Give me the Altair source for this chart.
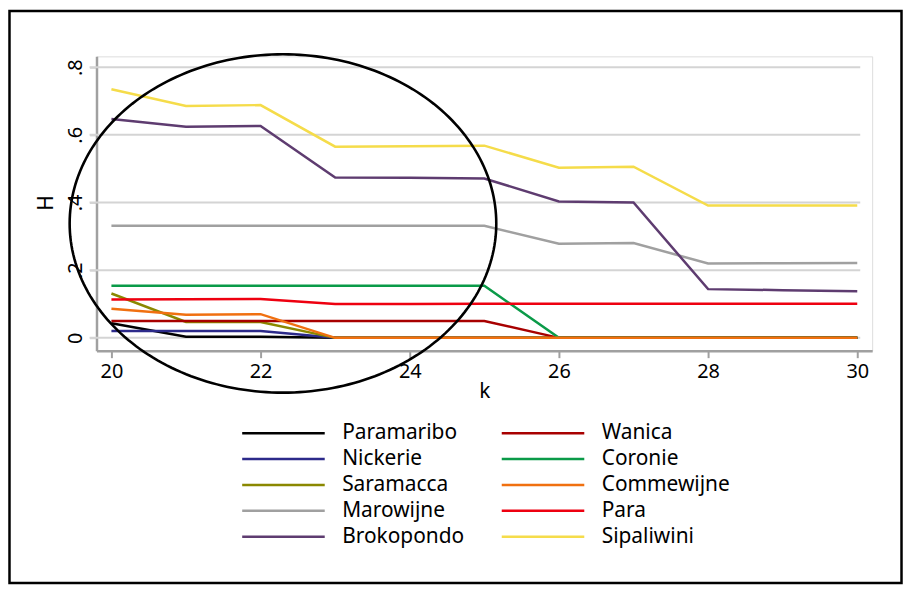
import altair as alt
import numpy as np
import pandas as pd

# ---------------- data ----------------
k = [20, 21, 22, 23, 24, 25, 26, 27, 28, 29, 30]

series_names = ["Paramaribo", "Nickerie", "Saramacca", "Marowijne", "Brokopondo",
                "Wanica", "Coronie", "Commewijne", "Para", "Sipaliwini"]

paramaribo = [0.043, 0.003, 0.003, 0, 0, 0, 0, 0, 0, 0, 0]
nickerie   = [0.020, 0.020, 0.020, 0, 0, 0, 0, 0, 0, 0, 0]
saramacca  = [0.131, 0.047, 0.047, 0, 0, 0, 0, 0, 0, 0, 0]
marowijne  = [0.331, 0.331, 0.331, 0.331, 0.331, 0.331, 0.278, 0.280, 0.220, 0.2205, 0.221]
brokopondo = [0.647, 0.624, 0.626, 0.474, 0.4735, 0.471, 0.403, 0.400, 0.144, 0.141, 0.138]
wanica     = [0.050, 0.050, 0.050, 0.050, 0.050, 0.050, 0, 0, 0, 0, 0]
coronie    = [0.154, 0.154, 0.154, 0.154, 0.154, 0.154, 0, 0, 0, 0, 0]
commewijne = [0.086, 0.068, 0.070, 0, 0, 0, 0, 0, 0, 0, 0]
para       = [0.113, 0.114, 0.115, 0.100, 0.100, 0.101, 0.101, 0.101, 0.101, 0.101, 0.101]
sipaliwini = [0.735, 0.685, 0.688, 0.565, 0.566, 0.568, 0.503, 0.506, 0.391, 0.391, 0.391]

series_values = [paramaribo, nickerie, saramacca, marowijne, brokopondo,
                 wanica, coronie, commewijne, para, sipaliwini]

series_colors = ["#000000", "#2c2a8a", "#8a8800", "#a0a0a0", "#5e3c70",
                 "#a80000", "#0a9a48", "#f07010", "#ee0010", "#f5dc4a"]

y_ticks = [0, 0.2, 0.4, 0.6, 0.8]
x_ticks = [20, 22, 24, 26, 28, 30]

# annotation ellipse (data units)
ell_cx, ell_cy, ell_rx, ell_ry = 22.3, 0.338, 2.86, 0.50

# ---------------- tables ----------------
rows = []
for oi, (name, vals) in enumerate(zip(series_names, series_values)):
    for kk, v in zip(k, vals):
        rows.append({"k": kk, "H": v, "series": name, "ord": oi})
df = pd.DataFrame(rows)

t = np.linspace(0, 2 * np.pi, 241)
df_ell = pd.DataFrame({"x": ell_cx + ell_rx * np.cos(t),
                       "y": ell_cy + ell_ry * np.sin(t),
                       "i": np.arange(len(t))})

df_grid = pd.DataFrame({"g": y_ticks})

FONT = "Noto Sans"
xscale = alt.Scale(domain=[19.8, 30.2], nice=False, zero=False)
yscale = alt.Scale(domain=[-0.038, 0.832], nice=False, zero=False)

label_expr = "datum.value == 0 ? '0' : replace(format(datum.value, '.1f'), '0.', '.')"

grid = alt.Chart(df_grid).mark_rule(color="#d4d4d4", strokeWidth=2).encode(
    y=alt.Y("g:Q", scale=yscale),
    x=alt.datum(19.707),
    x2=alt.datum(30.04),
)

lines = alt.Chart(df).mark_line(strokeWidth=2.5).encode(
    x=alt.X("k:Q", scale=xscale,
            axis=alt.Axis(values=x_ticks, format="d", title="k", grid=False,
                          domainColor="#a0a0a0", domainWidth=2.5,
                          tickColor="#a0a0a0", tickWidth=2, tickSize=7,
                          labelFontSize=20, labelFont=FONT, labelColor="black",
                          labelPadding=4,
                          titleFontSize=21, titleFont=FONT, titleFontWeight="normal",
                          titleColor="black", titleBaseline="alphabetic",
                          titleY=47)),
    y=alt.Y("H:Q", scale=yscale,
            axis=alt.Axis(values=y_ticks, title="H", grid=False,
                          labelExpr=label_expr,
                          domainColor="#a0a0a0", domainWidth=2.5,
                          tickColor="#d4d4d4", tickWidth=2, tickSize=7,
                          labelAngle=-90, labelAlign="center",
                          labelBaseline="alphabetic", labelPadding=8,
                          labelFontSize=20, labelFont=FONT, labelColor="black",
                          titleFontSize=21, titleFont=FONT, titleFontWeight="normal",
                          titleColor="black", titleAngle=-90,
                          titleAlign="center", titleBaseline="middle",
                          titleX=-50, titleY=147)),
    color=alt.Color("series:N",
                    scale=alt.Scale(domain=series_names, range=series_colors),
                    legend=alt.Legend(orient="none", legendX=145, legendY=366,
                                      columns=2, title=None,
                                      symbolType="stroke", symbolSize=6889,
                                      symbolStrokeWidth=2.5,
                                      clipHeight=26,
                                      labelFontSize=21, labelFont=FONT,
                                      labelColor="black", labelOffset=16,
                                      columnPadding=36, rowPadding=0,
                                      padding=0)),
    detail="ord:O",
    order="k:Q",
)

ellipse = alt.Chart(df_ell).mark_line(color="black", strokeWidth=2.6).encode(
    x=alt.X("x:Q", scale=xscale),
    y=alt.Y("y:Q", scale=yscale),
    order="i:Q",
)

frame = alt.Chart(df_grid.head(1)).mark_rect(
    fillOpacity=0, stroke="black", strokeWidth=2.5
).encode(
    x=alt.value(-87.5), x2=alt.value(809.5),
    y=alt.value(-45.5), y2=alt.value(529.5),
)

chart = alt.layer(grid, lines, ellipse, frame).properties(
    width=780, height=296,
    autosize=alt.AutoSizeParams(type="none"),
    padding={"left": 89, "top": 47, "right": 31, "bottom": 235},
).configure_view(stroke=None).configure(font=FONT, background="white")

chart.save("out.html", embed_options={"renderer": "svg", "actions": False})
